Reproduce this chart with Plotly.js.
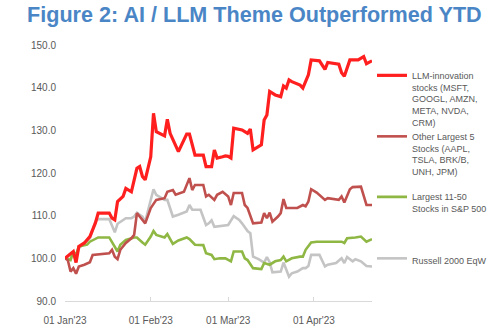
<!DOCTYPE html>
<html>
<head>
<meta charset="utf-8">
<script src="https://cdn.plot.ly/plotly-3.0.1.min.js"></script>
<style>
  html, body { margin: 0; padding: 0; background: #ffffff; }
  #chart { width: 500px; height: 335px; }
</style>
</head>
<body>
<div id="chart"></div>
<script>
// ---- Data (index, 01 Jan'23 = 100) ----
const llmDates = ["2023-01-01","2023-01-03","2023-01-04","2023-01-05","2023-01-06","2023-01-08","2023-01-10","2023-01-12","2023-01-13","2023-01-17","2023-01-18","2023-01-19","2023-01-20","2023-01-22","2023-01-23","2023-01-25","2023-01-27","2023-01-28","2023-01-29","2023-01-30","2023-02-01","2023-02-02","2023-02-03","2023-02-06","2023-02-07","2023-02-08","2023-02-11","2023-02-14","2023-02-15","2023-02-17","2023-02-20","2023-02-21","2023-02-23","2023-02-24","2023-02-25","2023-02-27","2023-02-28","2023-03-01","2023-03-02","2023-03-03","2023-03-06","2023-03-07","2023-03-08","2023-03-09","2023-03-10","2023-03-13","2023-03-14","2023-03-15","2023-03-16","2023-03-18","2023-03-20","2023-03-21","2023-03-22","2023-03-23","2023-03-24","2023-03-27","2023-03-28","2023-03-30","2023-03-31","2023-04-03","2023-04-05","2023-04-06","2023-04-09","2023-04-10","2023-04-11","2023-04-12","2023-04-14","2023-04-17","2023-04-19","2023-04-20","2023-04-22"];
const llmValues = [100,101.2,101.6,99.0,102.8,103.6,105.1,108.3,110.6,110.6,109.4,109.0,113.3,114.5,116.4,115.6,121.1,121.5,119.2,118.4,123.8,134.0,129.7,128.7,132.6,129.3,125.0,129.1,129.1,124.2,124.2,121.5,121.5,125.4,123.5,123.8,124.0,123.9,123.5,130.5,130.1,129.7,129.3,130.3,125.4,126.6,132.4,133.6,139.1,138.3,137.9,140.4,139.9,141.8,141.4,140.6,139.9,143.0,146.5,146.3,144.3,145.9,145.7,145.5,143.5,142.7,146.5,146.5,147.3,145.6,146.3];

const top5Dates = ["2023-01-01","2023-01-02","2023-01-03","2023-01-04","2023-01-05","2023-01-06","2023-01-08","2023-01-10","2023-01-11","2023-01-17","2023-01-18","2023-01-19","2023-01-20","2023-01-21","2023-01-23","2023-01-25","2023-01-26","2023-01-27","2023-01-28","2023-01-29","2023-01-30","2023-02-01","2023-02-03","2023-02-06","2023-02-07","2023-02-09","2023-02-10","2023-02-13","2023-02-15","2023-02-16","2023-02-17","2023-02-20","2023-02-21","2023-02-22","2023-02-24","2023-02-25","2023-02-27","2023-03-01","2023-03-02","2023-03-03","2023-03-06","2023-03-07","2023-03-08","2023-03-10","2023-03-13","2023-03-14","2023-03-15","2023-03-16","2023-03-17","2023-03-19","2023-03-20","2023-03-21","2023-03-22","2023-03-24","2023-03-26","2023-03-28","2023-03-29","2023-03-30","2023-03-31","2023-04-02","2023-04-05","2023-04-06","2023-04-10","2023-04-11","2023-04-12","2023-04-14","2023-04-15","2023-04-18","2023-04-20","2023-04-22"];
const top5Values = [100,99.6,96.9,97.7,96.4,98.1,98.5,99.1,100.8,101.2,102.0,100.4,99.8,102.0,103.6,104.7,105.5,110.6,109.8,109.0,108.2,111.8,113.7,114.1,115.6,116.0,114.9,115.6,118.8,116.0,117.2,117.2,114.5,114.9,113.7,114.9,115.6,114.5,112.5,115.3,115.3,112.5,111.8,108.2,108.4,110.6,109.4,110.7,108.6,109.8,110.6,113.9,111.8,111.8,111.8,112.5,112.2,113.3,116.2,115.4,113.7,114.1,113.7,114.5,113.1,116.2,116.7,116.8,112.5,112.5];

const midDates = ["2023-01-01","2023-01-03","2023-01-04","2023-01-05","2023-01-06","2023-01-09","2023-01-10","2023-01-13","2023-01-17","2023-01-19","2023-01-20","2023-01-21","2023-01-23","2023-01-26","2023-01-27","2023-01-29","2023-01-30","2023-02-01","2023-02-02","2023-02-03","2023-02-06","2023-02-07","2023-02-09","2023-02-11","2023-02-14","2023-02-15","2023-02-17","2023-02-20","2023-02-21","2023-02-23","2023-02-24","2023-02-26","2023-02-28","2023-03-02","2023-03-03","2023-03-06","2023-03-07","2023-03-08","2023-03-10","2023-03-13","2023-03-14","2023-03-16","2023-03-18","2023-03-20","2023-03-21","2023-03-22","2023-03-24","2023-03-27","2023-03-28","2023-03-29","2023-03-30","2023-03-31","2023-04-02","2023-04-11","2023-04-12","2023-04-13","2023-04-16","2023-04-18","2023-04-20","2023-04-22"];
const midValues = [100,99.6,101.6,100.8,102.8,103.2,103.9,104.9,104.9,102.8,101.6,103.2,104.3,104.9,104.9,103.7,103.2,105.1,106.4,105.5,104.9,105.7,103.4,104.2,104.9,104.5,103.2,103.1,101.2,100.8,99.8,100.0,100.0,99.3,101.6,101.6,100.0,99.6,97.7,97.5,98.9,98.5,99.3,99.6,100.4,99.3,100.0,100.4,100.4,102.0,102.8,103.7,103.9,103.9,103.6,104.7,104.9,105.1,103.9,104.5];

const rtyDates = ["2023-01-01","2023-01-03","2023-01-04","2023-01-05","2023-01-06","2023-01-08","2023-01-10","2023-01-12","2023-01-13","2023-01-17","2023-01-19","2023-01-20","2023-01-23","2023-01-25","2023-01-26","2023-01-27","2023-01-28","2023-01-29","2023-01-30","2023-02-01","2023-02-02","2023-02-03","2023-02-06","2023-02-07","2023-02-09","2023-02-11","2023-02-14","2023-02-15","2023-02-16","2023-02-19","2023-02-21","2023-02-22","2023-02-23","2023-02-24","2023-02-26","2023-02-28","2023-03-01","2023-03-03","2023-03-05","2023-03-06","2023-03-08","2023-03-09","2023-03-10","2023-03-12","2023-03-14","2023-03-15","2023-03-16","2023-03-17","2023-03-20","2023-03-21","2023-03-23","2023-03-24","2023-03-26","2023-03-28","2023-03-29","2023-03-30","2023-03-31","2023-04-03","2023-04-05","2023-04-06","2023-04-09","2023-04-11","2023-04-12","2023-04-13","2023-04-15","2023-04-16","2023-04-18","2023-04-20","2023-04-22"];
const rtyValues = [100,99.8,101.4,100.4,102.4,103.6,104.7,108.6,109.2,109.2,106.1,108.1,109.4,109.4,109.8,110.7,110.2,109.8,108.6,113.7,116.2,114.9,113.7,113.7,109.8,110.2,111.0,112.5,111.4,111.4,107.8,108.2,108.9,107.4,107.6,107.7,107.8,109.9,109.0,108.2,106.4,105.9,100.4,99.8,99.0,100.3,99.1,96.7,96.9,99.0,95.7,96.5,96.9,97.7,97.7,98.2,100.8,100.8,98.1,98.5,98.9,100.0,98.9,100.3,99.3,99.8,99.3,98.2,98.1];

const seriesNames = [
  "LLM-innovation<br>stocks (MSFT,<br>GOOGL, AMZN,<br>META, NVDA,<br>CRM)",
  "Other Largest 5<br>Stocks (AAPL,<br>TSLA, BRK/B,<br>UNH, JPM)",
  "Largest 11-50<br>Stocks in S&P 500",
  "Russell 2000 EqW"
];
const titleText = "Figure 2: AI / LLM Theme Outperformed YTD";
const xRange = ["2023-01-01", "2023-04-22"];
const yRange = [90, 150];

// ---- Styling ----
const W = 500, H = 335;
const FONT = "'Liberation Sans Narrow', 'Arial Narrow', 'Liberation Sans', Arial, sans-serif";
const colors = ["#ff1f1f", "#c0504d", "#8fb744", "#c4c4c4"];

const traces = [
  {x: rtyDates, y: rtyValues, name: seriesNames[3], legend: "legend4", line: {color: colors[3], width: 2.6}},
  {x: midDates, y: midValues, name: seriesNames[2], legend: "legend3", line: {color: colors[2], width: 2.6}},
  {x: top5Dates, y: top5Values, name: seriesNames[1], legend: "legend2", line: {color: colors[1], width: 2.6}},
  {x: llmDates, y: llmValues, name: seriesNames[0], legend: "legend", line: {color: colors[0], width: 3.2}}
].map(t => Object.assign({type: "scatter", mode: "lines", hoverinfo: "skip"}, t));

function legendAt(topPx) {
  return {x: 372 / W, y: 1 - topPx / H, xref: "container", yref: "container",
          xanchor: "left", yanchor: "top", valign: "top",
          bgcolor: "rgba(0,0,0,0)", borderwidth: 0,
          font: {family: FONT, size: 9, color: "#595959"}};
}

const layout = {
  width: W, height: H,
  margin: {l: 65, r: 122, t: 45, b: 34, pad: 0},
  paper_bgcolor: "#ffffff", plot_bgcolor: "#ffffff",
  font: {family: FONT, size: 10, color: "#595959"},
  title: {text: "<b>" + titleText + "</b>", font: {family: FONT, size: 21.6, color: "#4a86c6"},
          x: 27 / W, xanchor: "left", xref: "container",
          y: 1 - 14 / H, yanchor: "middle", yref: "container"},
  showlegend: true,
  legend: legendAt(63),
  legend2: legendAt(124),
  legend3: legendAt(184.5),
  legend4: legendAt(246),
  xaxis: {type: "date", range: xRange, dtick: "M1", tick0: "2023-01-01",
          tickformat: "%d %b'%y", showgrid: false, zeroline: false,
          showline: true, linecolor: "#d9d9d9", linewidth: 1,
          ticks: "inside", ticklen: 4, tickcolor: "#d9d9d9",
          ticklabelstandoff: 10,
          tickfont: {family: FONT, size: 10, color: "#595959"}},
  yaxis: {range: yRange, dtick: 10, tick0: 90, tickformat: ".1f",
          showgrid: false, zeroline: false, showline: false, ticks: "",
          ticklabelstandoff: 8,
          tickfont: {family: FONT, size: 10, color: "#595959"}}
};

Plotly.newPlot("chart", traces, layout, {displayModeBar: false, staticPlot: true});
</script>
</body>
</html>
